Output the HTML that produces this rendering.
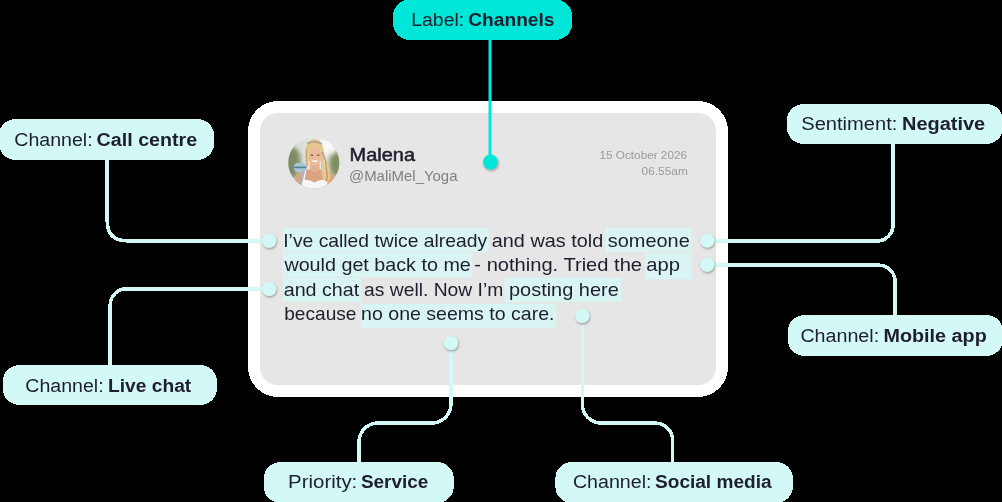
<!DOCTYPE html>
<html>
<head>
<meta charset="utf-8">
<style>
html,body{margin:0;padding:0;background:#000;width:1002px;height:502px;overflow:hidden;}
svg{display:block;font-family:"Liberation Sans", sans-serif;will-change:transform;}
</style>
</head>
<body>
<svg width="1002" height="502" viewBox="0 0 1002 502">
<defs>
  <filter id="sh" x="-50%" y="-50%" width="200%" height="200%">
    <feDropShadow dx="0.6" dy="1.3" stdDeviation="1" flood-color="#000" flood-opacity="0.38"/>
  </filter>
  <filter id="bl" x="-50%" y="-50%" width="200%" height="200%"><feGaussianBlur stdDeviation="2.5"/></filter>
  <clipPath id="av"><circle cx="313.8" cy="162.8" r="25.6"/></clipPath>
  <radialGradient id="bgsky" cx="0.55" cy="0.25" r="0.7">
    <stop offset="0" stop-color="#e9eeee"/>
    <stop offset="0.5" stop-color="#c5cfc3"/>
    <stop offset="1" stop-color="#7b8a5f"/>
  </radialGradient>
</defs>

<!-- card -->
<rect x="248" y="101" width="480" height="296" rx="30" fill="#ffffff" shape-rendering="crispEdges"/>
<rect x="260" y="113" width="456" height="272" rx="18" fill="#e6e6e6"/>

<!-- avatar -->
<g clip-path="url(#av)">
  <g transform="translate(286 135)">
    <rect x="0" y="0" width="56" height="56" fill="#e3e7e2"/>
    <ellipse cx="6" cy="27" rx="9" ry="17" fill="#7f8b63" filter="url(#bl)"/>
    <ellipse cx="50" cy="29" rx="7" ry="13" fill="#7e8d60" filter="url(#bl)"/>
    <ellipse cx="41" cy="11" rx="10" ry="8" fill="#f8f9f8" filter="url(#bl)"/>
    <ellipse cx="15" cy="9" rx="7" ry="5" fill="#d9e0dc" filter="url(#bl)"/>
    <!-- shoulders/chest -->
    <path d="M7 56 L8.5 44 Q10 36 19 34.5 L38 34.5 Q47 36 49 44 L49 56 Z" fill="#dca383"/>
    <!-- neck -->
    <rect x="24" y="27" width="9.5" height="10" rx="3" fill="#e2b08f"/>
    <!-- white top -->
    <path d="M14.5 58 L16.5 45.5 Q22 43.5 28.5 47.5 Q35 43.5 41 45.5 L42.5 58 Z" fill="#f6f6f6"/>
    <path d="M19.6 35 L17.6 45.5 M36.8 35 L39 45.5" stroke="#f3f3f3" stroke-width="1.6" fill="none"/>
    <!-- hair -->
    <path d="M19.5 31 Q18 20 20 11 Q23 4 28.5 4 Q34 4 36.5 10.5 Q38.5 17 38.5 23 Q43.5 29 44 37 Q45.5 44 42 47.5 Q37 46 36 40 Q34.5 33 35 28 L34.5 15 Q29 9 23 15 L22.5 32 Z" fill="#e3c690"/>
    <path d="M36 17 Q40.5 25 40 33 Q42 40 40.5 46" stroke="#a98454" stroke-width="1.2" fill="none" opacity="0.75"/>
    <path d="M38 25 Q39.5 31 38 37" stroke="#f4e4c0" stroke-width="1" fill="none" opacity="0.8"/>
    <path d="M20.5 14 Q20 24 21 31" stroke="#b59566" stroke-width="1" fill="none" opacity="0.6"/>
    <path d="M21 8.5 Q28.5 5 36 9" stroke="#8c8678" stroke-width="1.5" fill="none" opacity="0.6"/>
    <!-- face -->
    <ellipse cx="29" cy="21.3" rx="6.6" ry="9.6" fill="#ebba98"/>
    <path d="M22.3 15.5 Q28.5 10 35.5 15.5 L35.5 12 Q28.5 7.5 22.3 12 Z" fill="#e3c690"/>
    <ellipse cx="25.9" cy="20.2" rx="1.4" ry="0.6" fill="#6a4a38"/>
    <ellipse cx="32.2" cy="20.2" rx="1.4" ry="0.6" fill="#6a4a38"/>
    <path d="M25.3 25.6 Q29 29 32.6 25.6 Z" fill="#ffffff"/>
    <!-- yoga mat -->
    <rect x="7.5" y="27.8" width="13" height="9.5" rx="4.7" fill="#a6c7d6"/>
    <rect x="7.5" y="31.6" width="13" height="1.6" fill="#587f94"/>
    <path d="M18 36 L14.7 49" stroke="#93bdd2" stroke-width="1.8" fill="none"/>
  </g>
</g>

<!-- name -->
<text x="349.6" y="161" font-size="18.5" fill="#1d1d2b" stroke="#1d1d2b" stroke-width="0.5" textLength="65.4" lengthAdjust="spacingAndGlyphs">Malena</text>
<text x="349" y="181.2" font-size="14.4" fill="#808080" textLength="108.5" lengthAdjust="spacingAndGlyphs">@MaliMel_Yoga</text>
<text x="599.5" y="159.2" font-size="11.6" fill="#9a9a9a" textLength="87.5" lengthAdjust="spacingAndGlyphs">15 October 2026</text>
<text x="641.6" y="175.4" font-size="11.6" fill="#9a9a9a" textLength="46.2" lengthAdjust="spacingAndGlyphs">06.55am</text>

<!-- highlights -->
<g fill="#d8f5f4">
  <rect x="283.3" y="228" width="205.3" height="24"/>
  <rect x="605.5" y="228" width="86.1" height="24"/>
  <rect x="283.3" y="253" width="188.7" height="24"/>
  <rect x="645.1" y="253.4" width="46.5" height="25.9"/>
  <rect x="283.3" y="277.9" width="77.9" height="24.1"/>
  <rect x="504.8" y="278" width="116.2" height="24"/>
  <rect x="361" y="303.8" width="195.2" height="24.2"/>
</g>

<!-- tweet text -->
<g font-size="18.5" fill="#1e1e2c">
  <text x="283.26" y="246.6" textLength="203.85" lengthAdjust="spacingAndGlyphs">I’ve called twice already</text>
  <text x="491.80" y="246.6" textLength="111.39" lengthAdjust="spacingAndGlyphs">and was told</text>
  <text x="607.79" y="246.6" textLength="81.98" lengthAdjust="spacingAndGlyphs">someone</text>
  <text x="284.40" y="271.4" textLength="186.42" lengthAdjust="spacingAndGlyphs">would get back to me</text>
  <text x="474.38" y="271.4" textLength="167.64" lengthAdjust="spacingAndGlyphs">- nothing. Tried the</text>
  <text x="646.38" y="271.4" textLength="33.70" lengthAdjust="spacingAndGlyphs">app</text>
  <text x="283.71" y="295.7" textLength="75.46" lengthAdjust="spacingAndGlyphs">and chat</text>
  <text x="364.03" y="295.7" textLength="139.28" lengthAdjust="spacingAndGlyphs">as well. Now I’m</text>
  <text x="508.99" y="295.7" textLength="109.80" lengthAdjust="spacingAndGlyphs">posting here</text>
  <text x="284.24" y="319.8" textLength="72.19" lengthAdjust="spacingAndGlyphs">because</text>
  <text x="361.11" y="319.8" textLength="193.38" lengthAdjust="spacingAndGlyphs">no one seems to care.</text>
</g>

<!-- connectors -->
<g fill="none" stroke="#d2f9f6" stroke-width="3.5" shape-rendering="crispEdges">
  <path d="M107.2 160 V220.8 Q107.2 240.8 127.2 240.8 H269"/>
  <path d="M893 144 V225 A16 16 0 0 1 877 241 H707"/>
  <path d="M707 265.2 H879 A16 16 0 0 1 895 281.2 V315"/>
  <path d="M269 288.9 H126.2 A16 16 0 0 0 110.2 304.9 V365"/>
  <path d="M451 343 V404 A19 19 0 0 1 432 423 H378 A19 19 0 0 0 359 442 V462"/>
  <path d="M582.3 316 V404.1 A19 19 0 0 0 601.3 423.1 H655.5 A17 17 0 0 1 672.5 440.1 V462"/>
</g>
<path d="M490 40 V162" stroke="#00e6d8" stroke-width="3" fill="none"/>

<!-- dots -->
<g fill="#d2f9f6" filter="url(#sh)">
  <circle cx="269.2" cy="240.7" r="7"/>
  <circle cx="269.2" cy="289" r="7"/>
  <circle cx="707.3" cy="240.6" r="7"/>
  <circle cx="707.3" cy="264.8" r="7"/>
  <circle cx="451" cy="343" r="7"/>
  <circle cx="582.3" cy="316" r="7"/>
</g>
<circle cx="490.5" cy="162" r="7.5" fill="#00e6d8" filter="url(#sh)"/>

<!-- pills -->
<rect x="393.2" y="-0.5" width="178.8" height="40.5" rx="17" ry="16" fill="#00e6d8" shape-rendering="crispEdges"/>
<g fill="#1e1e2c" font-size="18"><text x="411.32" y="26" textLength="52.78" lengthAdjust="spacingAndGlyphs">Label:</text><text x="468.24" y="26" font-weight="bold" textLength="86.26" lengthAdjust="spacingAndGlyphs">Channels</text></g>

<g fill="#d2f9f6" shape-rendering="crispEdges">
  <rect x="-1" y="119" width="215" height="41" rx="17" ry="16"/>
  <rect x="787" y="104" width="216" height="40" rx="17" ry="16"/>
  <rect x="787.8" y="315" width="215.2" height="41" rx="17" ry="16"/>
  <rect x="2.8" y="365" width="214.1" height="40" rx="17" ry="16"/>
  <rect x="263.8" y="462" width="189.9" height="41" rx="17" ry="16"/>
  <rect x="555.4" y="462" width="237.4" height="41" rx="17" ry="16"/>
</g>
<g font-size="18" fill="#1e1e2c">
  <text x="14.31" y="145.7" textLength="78.33" lengthAdjust="spacingAndGlyphs">Channel:</text>
  <text x="96.61" y="145.7" font-weight="bold" textLength="100.54" lengthAdjust="spacingAndGlyphs">Call centre</text>
  <text x="801.28" y="130.4" textLength="96.10" lengthAdjust="spacingAndGlyphs">Sentiment:</text>
  <text x="901.99" y="130.4" font-weight="bold" textLength="83.17" lengthAdjust="spacingAndGlyphs">Negative</text>
  <text x="800.41" y="341.6" textLength="78.75" lengthAdjust="spacingAndGlyphs">Channel:</text>
  <text x="883.50" y="341.6" font-weight="bold" textLength="103.20" lengthAdjust="spacingAndGlyphs">Mobile app</text>
  <text x="25.31" y="391.7" textLength="78.33" lengthAdjust="spacingAndGlyphs">Channel:</text>
  <text x="107.93" y="391.7" font-weight="bold" textLength="83.30" lengthAdjust="spacingAndGlyphs">Live chat</text>
  <text x="288.07" y="488.4" textLength="69.22" lengthAdjust="spacingAndGlyphs">Priority:</text>
  <text x="360.95" y="488.4" font-weight="bold" textLength="67.47" lengthAdjust="spacingAndGlyphs">Service</text>
  <text x="572.91" y="488.1" textLength="78.64" lengthAdjust="spacingAndGlyphs">Channel:</text>
  <text x="655.04" y="488.1" font-weight="bold" textLength="116.52" lengthAdjust="spacingAndGlyphs">Social media</text>
</g>
</svg>
</body>
</html>
